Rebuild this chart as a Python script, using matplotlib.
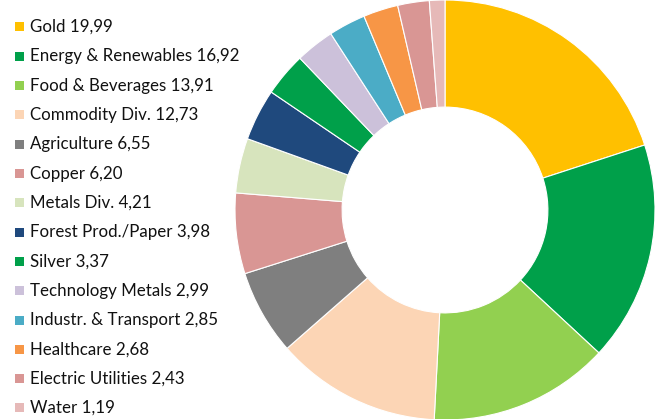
import matplotlib
matplotlib.use("Agg")
import matplotlib.pyplot as plt
from matplotlib.patches import Rectangle

categories = ["Gold", "Energy & Renewables", "Food & Beverages", "Commodity Div.",
              "Agriculture", "Copper", "Metals Div.", "Forest Prod./Paper", "Silver",
              "Technology Metals", "Industr. & Transport", "Healthcare",
              "Electric Utilities", "Water"]
values = [19.99, 16.92, 13.91, 12.73, 6.55, 6.20, 4.21, 3.98, 3.37, 2.99, 2.85, 2.68, 2.43, 1.19]
colors = ["#FFC000", "#00A04A", "#92D050", "#FCD5B5", "#7F7F7F", "#D99694", "#D7E4BD",
          "#1F497D", "#00A04A", "#CCC1DA", "#4BACC6", "#F79646", "#D99694", "#E6B9B8"]

W, H = 659, 419
fig = plt.figure(figsize=(W / 100, H / 100), dpi=100)
fig.patch.set_facecolor("white")

cx, cy, r = 445, 210, 210
ax = fig.add_axes([(cx - r) / W, (H - cy - r) / H, 2 * r / W, 2 * r / H])
ax.pie(values, colors=colors, startangle=90, counterclock=False, radius=1,
       wedgeprops=dict(width=0.51, edgecolor="white", linewidth=0.8))
ax.set_xlim(-1, 1)
ax.set_ylim(-1, 1)
ax.set_aspect("equal")
ax.axis("off")

# legend
lax = fig.add_axes([0, 0, 1, 1])
lax.set_xlim(0, W)
lax.set_ylim(H, 0)
lax.axis("off")
for i, (lab, val, col) in enumerate(zip(categories, values, colors)):
    y = 27 + i * 29.3
    lax.add_patch(Rectangle((15, y - 4.5), 9, 9, facecolor=col, edgecolor="none"))
    vtxt = f"{val:.2f}".replace(".", ",")
    lax.text(30, y, f"{lab} {vtxt}", va="center", ha="left",
             fontsize=12.2, family="Lato", color="#111111")

fig.savefig("out.png", dpi=100)
